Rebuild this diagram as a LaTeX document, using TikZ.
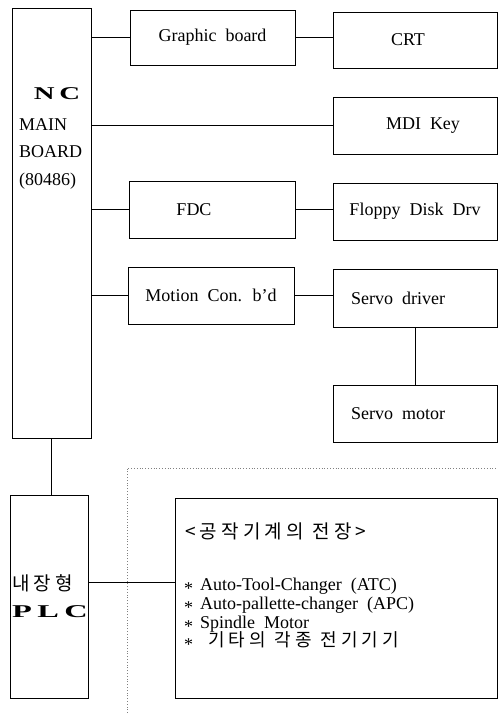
\documentclass[tikz,border=0pt]{standalone}
\usepackage{fontspec}
\usepackage{graphicx}
\setmainfont{Liberation Serif}
\newfontfamily\krfont{Noto Sans CJK KR}[LetterSpace=22]
\tikzstyle{box}=[draw, line width=1pt, inner sep=0pt]
\tikzstyle{wire}=[line width=1pt]
\tikzstyle{txt}=[inner sep=0pt, font={\fontsize{18}{20}\selectfont\spaceskip=9pt plus 2pt\relax}]
\tikzstyle{krtxt}=[inner sep=0pt, font={\fontsize{19}{20}\krfont}]
\tikzstyle{wide}=[txt, anchor=base west]
\newcommand{\bul}{\raisebox{-4pt}{*}\hspace{7pt}}

\begin{document}
\begin{tikzpicture}[x=1pt,y=-1pt]
	\useasboundingbox (0,0) rectangle (498,713);

	% controller side
	\node[box,minimum width=79pt,minimum height=430pt] (nc) at (51.5,223) {};
	\node[txt,anchor=base] (ncname) at (57,99) {\scalebox{1.6}[1]{\bfseries N\,C}};
	\node[wide] (ncmain) at (19,130) {MAIN};
	\node[wide] (ncboard) at (19,157) {BOARD};
	\node[wide] (nccpu) at (19,185) {(80486)};

	\node[box,txt,minimum width=165pt,minimum height=55pt] (gfx) at (212.5,37.5) {Graphic board};
	\node[box,txt,minimum width=164pt,minimum height=56pt] (crt) at (415,40) {CRT\kern14pt};
	\node[box,txt,minimum width=164pt,minimum height=57pt] (mdi) at (415,125.5) {\kern16pt MDI Key};
	\node[box,txt,minimum width=166pt,minimum height=57pt] (fdc) at (212,209.5) {FDC\kern36pt};
	\node[box,txt,minimum width=164pt,minimum height=57pt] (fdd) at (415,211.5) {Floppy Disk Drv};
	\node[box,txt,minimum width=166pt,minimum height=57pt] (mcb) at (211,295.5) {Motion Con. b'd};
	\node[box,txt,minimum width=164pt,minimum height=58pt] (sdrv) at (415,298) {Servo driver\kern34pt};
	\node[box,txt,minimum width=164pt,minimum height=57pt] (smot) at (415,413.5) {Servo motor\kern34pt};

	\draw[wire] (nc.east |- gfx.west) -- (gfx.west);
	\draw[wire] (gfx.east) -- (crt.west |- gfx.east);
	\draw[wire] (nc.east |- mdi.west) -- (mdi.west);
	\draw[wire] (nc.east |- fdc.west) -- (fdc.west);
	\draw[wire] (fdc.east) -- (fdd.west |- fdc.east);
	\draw[wire] (nc.east |- mcb.west) -- (mcb.west);
	\draw[wire] (mcb.east) -- (sdrv.west |- mcb.east);
	\draw[wire] (sdrv.south) -- (smot.north);

	% plc side
	\node[box,minimum width=78pt,minimum height=203pt] (plc) at (49,596.5) {};
	\node[krtxt,anchor=base west] (plckr) at (12,590) {내장형};
	\node[wide] (plcname) at (12,617) {\scalebox{1.8}[1]{\bfseries P\,L\,C}};
	\draw[wire] (nc.south) -- (nc.south |- plc.north);

	\draw[dotted,line width=0.8pt,gray] (127,713) -- (127,468) -- (498,468);

	\node[box,minimum width=322pt,minimum height=200pt] (mach) at (336,598) {};
	\node[krtxt,anchor=base west] (machtitle) at (185,538) {<공작기계의 전장>};
	\node[wide] (atc) at (184,590) {\bul Auto-Tool-Changer (ATC)};
	\node[wide] (apc) at (184,609) {\bul Auto-pallette-changer (APC)};
	\node[wide] (spm) at (184,628) {\bul Spindle Motor};
	\node[wide] (etc) at (184,646) {\bul\hspace{8pt}{\krfont 기타의 각종 전기기기}};
	\draw[wire] ([yshift=14.5pt]plc.east) -- ([yshift=14.5pt]plc.east -| mach.west);
\end{tikzpicture}
\end{document}
